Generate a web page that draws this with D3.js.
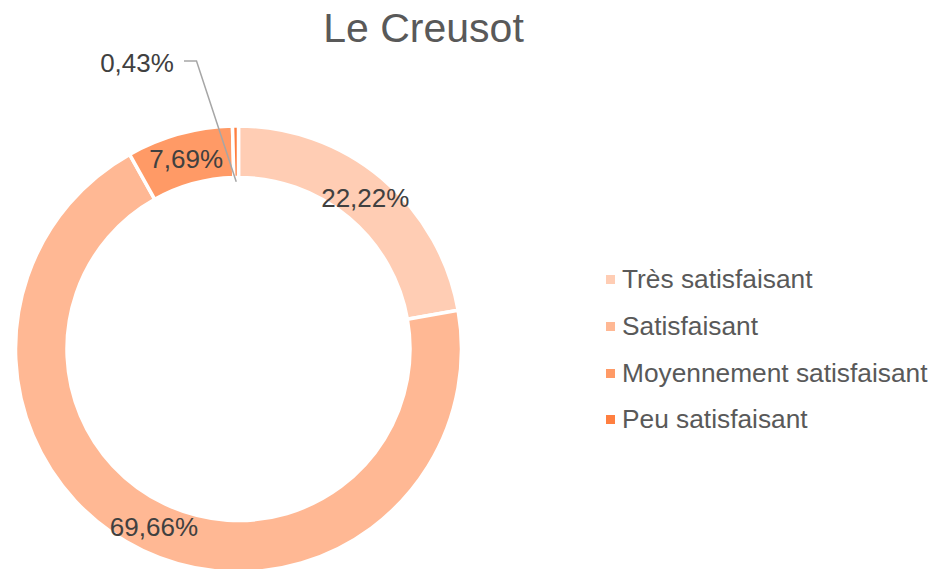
<!DOCTYPE html>
<html><head><meta charset="utf-8">
<script src="https://cdn.jsdelivr.net/npm/d3@7"></script>
<style>body{margin:0;background:#fff}svg{display:block;font-family:"Liberation Sans",Arial,sans-serif}</style>
</head><body><svg id="c" width="931" height="569"></svg>
<script>
const title = "Le Creusot";
const categories = ["Très satisfaisant","Satisfaisant","Moyennement satisfaisant","Peu satisfaisant"];
const values = [22.22, 69.66, 7.69, 0.43];
const labels = ["22,22%","69,66%","7,69%","0,43%"];
const colors = ["#FFCDB4","#FFB894","#FF9A66","#FF7F40"];

const svg = d3.select("#c");
const cx = 238.5, cy = 349, rOut = 223, rIn = 171.5;

svg.append("text").attr("x",423.5).attr("y",42).attr("text-anchor","middle")
  .attr("font-size",41).attr("fill","#595959").text(title);

const pie = d3.pie().sort(null).value(d=>d)(values);
const arc = d3.arc().innerRadius(rIn).outerRadius(rOut);
const g = svg.append("g").attr("transform",`translate(${cx},${cy})`);
g.selectAll("path").data(pie).join("path")
  .attr("d",arc).attr("fill",(d,i)=>colors[i])
  .attr("stroke","#fff").attr("stroke-width",3.5).attr("stroke-linejoin","miter");

// leader line for small slice
const small = pie[3];
const mid = (small.startAngle+small.endAngle)/2;
const rm = (rIn+rOut)/2 - 30;
const px = cx + rm*Math.sin(mid), py = cy - rm*Math.cos(mid);
svg.append("polyline")
  .attr("points",`${184},${61} ${196.5},${61} ${px},${py}`)
  .attr("fill","none").attr("stroke","#A6A6A6").attr("stroke-width",1.5);

g.selectAll("text.lbl").data(pie).join("text").attr("class","lbl")
  .attr("transform",(d,i)=>{
    if(i===3) return `translate(${137-cx},${63-cy})`;
    const c = arc.centroid(d); return `translate(${c[0]},${c[1]})`;
  })
  .attr("text-anchor","middle").attr("dy","0.35em")
  .attr("font-size",26).attr("fill","#404040")
  .text((d,i)=>labels[i]);

const leg = svg.append("g");
const rowY = [288, 335, 382, 428];
categories.forEach((c,i)=>{
  leg.append("rect").attr("x",606).attr("y",rowY[i]-13).attr("width",9).attr("height",9).attr("fill",colors[i]);
  leg.append("text").attr("x",622).attr("y",rowY[i]).attr("font-size",26.3).attr("fill","#595959").text(c);
});
</script></body></html>
